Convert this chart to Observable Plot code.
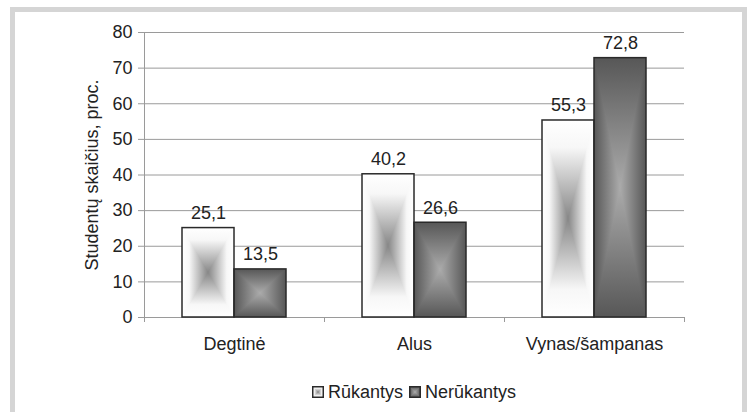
<!DOCTYPE html>
<html>
<head>
<meta charset="utf-8">
<script src="https://cdn.jsdelivr.net/npm/d3@7"></script>
<script src="https://cdn.jsdelivr.net/npm/@observablehq/plot@0.6"></script>
<style>
  html, body { margin: 0; padding: 0; background: #fff; }
  body { font-family: "Liberation Sans", Arial, sans-serif; color: #222; }
  #wrap { position: relative; width: 747px; height: 412px; overflow: hidden; }
  #frame { position: absolute; left: 10px; top: 7px; width: 737px; height: 430px; box-sizing: border-box;
           border: 5px solid #d5d5d5; border-bottom: none; }
  #chart { position: absolute; left: 0; top: 0; width: 747px; }
  #chart svg { display: block; background: transparent; }
  #legend { width: 747px; box-sizing: border-box; padding-left: 81px; height: 22px; line-height: 22px;
            display: flex; justify-content: center; align-items: center; font-size: 18px; color: #222; }
  #legend .item { display: flex; align-items: center; margin: 0 3px; }
  #legend svg { margin-right: 4px; }
</style>
</head>
<body>
<svg width="0" height="0" style="position:absolute">
  <defs>
    <linearGradient id="rH" x1="0" y1="0" x2="1" y2="0">
      <stop offset="0" stop-color="#ffffff"/><stop offset="0.14" stop-color="#f7f7f7"/>
      <stop offset="0.5" stop-color="#878787"/>
      <stop offset="0.86" stop-color="#f7f7f7"/><stop offset="1" stop-color="#ffffff"/>
    </linearGradient>
    <linearGradient id="rV" x1="0" y1="0" x2="0" y2="1">
      <stop offset="0" stop-color="#ffffff"/><stop offset="0.14" stop-color="#f7f7f7"/>
      <stop offset="0.5" stop-color="#878787"/>
      <stop offset="0.86" stop-color="#f7f7f7"/><stop offset="1" stop-color="#ffffff"/>
    </linearGradient>
    <linearGradient id="nH" x1="0" y1="0" x2="1" y2="0">
      <stop offset="0" stop-color="#575757"/><stop offset="0.5" stop-color="#ababab"/><stop offset="1" stop-color="#575757"/>
    </linearGradient>
    <linearGradient id="nV" x1="0" y1="0" x2="0" y2="1">
      <stop offset="0" stop-color="#575757"/><stop offset="0.5" stop-color="#ababab"/><stop offset="1" stop-color="#575757"/>
    </linearGradient>
    <clipPath id="clipTB" clipPathUnits="objectBoundingBox">
      <polygon points="0,0 1,0 0.5,0.5"/><polygon points="0,1 1,1 0.5,0.5"/>
    </clipPath>
  </defs>
</svg>
<div id="wrap">
  <div id="frame"></div>
  <div id="chart"></div>
</div>
<script>
// ---- data ----
const categories = ["Degtinė", "Alus", "Vynas/šampanas"];
const series = ["Rūkantys", "Nerūkantys"];
const rukantys = [25.1, 40.2, 55.3];
const nerukantys = [13.5, 26.6, 72.8];
const yTicks = [0, 10, 20, 30, 40, 50, 60, 70, 80];
const yLabel = "Studentų skaičius, proc.";

// ---- layout ----
const W = 747, H = 381, mL = 144, mR = 63, mT = 32, mB = 64;
const band = (W - mL - mR) / categories.length;
const barW = 52, outer = 38;
const frameH = H - mT - mB;
const fmt = v => v.toFixed(1).replace(".", ",");

const rows = categories.flatMap((c, i) => [
  {category: c, series: series[0], value: rukantys[i]},
  {category: c, series: series[1], value: nerukantys[i]}
]);
const rData = rows.filter(d => d.series === series[0]);
const nData = rows.filter(d => d.series === series[1]);
const rIns = {insetLeft: outer, insetRight: band - outer - barW};
const nIns = {insetLeft: band - outer - barW, insetRight: outer};
const off = band / 2 - outer - barW / 2;

const font = {fontSize: 18, fontFamily: "Liberation Sans, Arial, sans-serif"};

const plot = Plot.plot({
  width: W, height: H,
  marginLeft: mL, marginRight: mR, marginTop: mT, marginBottom: mB,
  style: {fontFamily: "Liberation Sans, Arial, sans-serif", fontSize: "18px", color: "#222", background: "transparent"},
  x: {type: "band", domain: categories, padding: 0, label: null},
  y: {domain: [0, 80], label: null},
  marks: [
    Plot.gridY(yTicks.slice(1), {stroke: "#9a9a9a", strokeOpacity: 1}),
    Plot.ruleY([0], {stroke: "#9a9a9a"}),
    Plot.ruleX([categories[0]], {x: d => d, dx: -band / 2, stroke: "#9a9a9a"}),
    Plot.tickX(categories, {x: d => d, dx: -band / 2, dy: 5, insetTop: frameH - 5, stroke: "#9a9a9a"}),
    Plot.tickX([categories[categories.length - 1]], {x: d => d, dx: band / 2, dy: 5, insetTop: frameH - 5, stroke: "#9a9a9a"}),
    Plot.barY(rData, {x: "category", y: "value", fill: "url(#rH)", ...rIns}),
    Plot.barY(rData, {x: "category", y: "value", fill: "url(#rV)", ...rIns}),
    Plot.barY(nData, {x: "category", y: "value", fill: "url(#nH)", ...nIns}),
    Plot.barY(nData, {x: "category", y: "value", fill: "url(#nV)", ...nIns}),
    Plot.barY(rData, {x: "category", y: "value", fill: "none", stroke: "#2a2a2a", strokeWidth: 1.5, ...rIns}),
    Plot.barY(nData, {x: "category", y: "value", fill: "none", stroke: "#2a2a2a", strokeWidth: 1.5, ...nIns}),
    Plot.text(rData, {x: "category", y: "value", text: d => fmt(d.value), dx: -off, dy: -9, lineAnchor: "bottom", fill: "#222", ...font}),
    Plot.text(nData, {x: "category", y: "value", text: d => fmt(d.value), dx: off, dy: -9, lineAnchor: "bottom", fill: "#222", ...font}),
    Plot.axisY(yTicks, {tickSize: 6, tickPadding: 6, stroke: "#9a9a9a", fill: "#222", ...font,
      label: yLabel, labelAnchor: "center", labelOffset: 59, labelArrow: "none"}),
    Plot.axisX({tickSize: 0, tickPadding: 20, fill: "#222", ...font, label: null})
  ]
});

// rectangular "from centre" gradient: horizontal base + vertical gradient on top/bottom triangles
const barGroups = plot.querySelectorAll('g[aria-label="bar"]');
[1, 3].forEach(i => barGroups[i] && barGroups[i].querySelectorAll("rect").forEach(r => r.setAttribute("clip-path", "url(#clipTB)")));

const chart = document.getElementById("chart");
chart.appendChild(plot);

// legend
const legend = document.createElement("div");
legend.id = "legend";
const grads = [["rH", "rV"], ["nH", "nV"]];
series.forEach((s, i) => {
  const item = document.createElement("span");
  item.className = "item";
  item.innerHTML = `<svg width="12" height="12" viewBox="0 0 12 12">
    <rect x="0.75" y="0.75" width="10.5" height="10.5" fill="url(#${grads[i][0]})"/>
    <rect x="0.75" y="0.75" width="10.5" height="10.5" fill="url(#${grads[i][1]})" clip-path="url(#clipTB)"/>
    <rect x="0.75" y="0.75" width="10.5" height="10.5" fill="none" stroke="#2a2a2a" stroke-width="1.5"/>
  </svg><span>${s}</span>`;
  legend.appendChild(item);
});
chart.appendChild(legend);
</script>
</body>
</html>
